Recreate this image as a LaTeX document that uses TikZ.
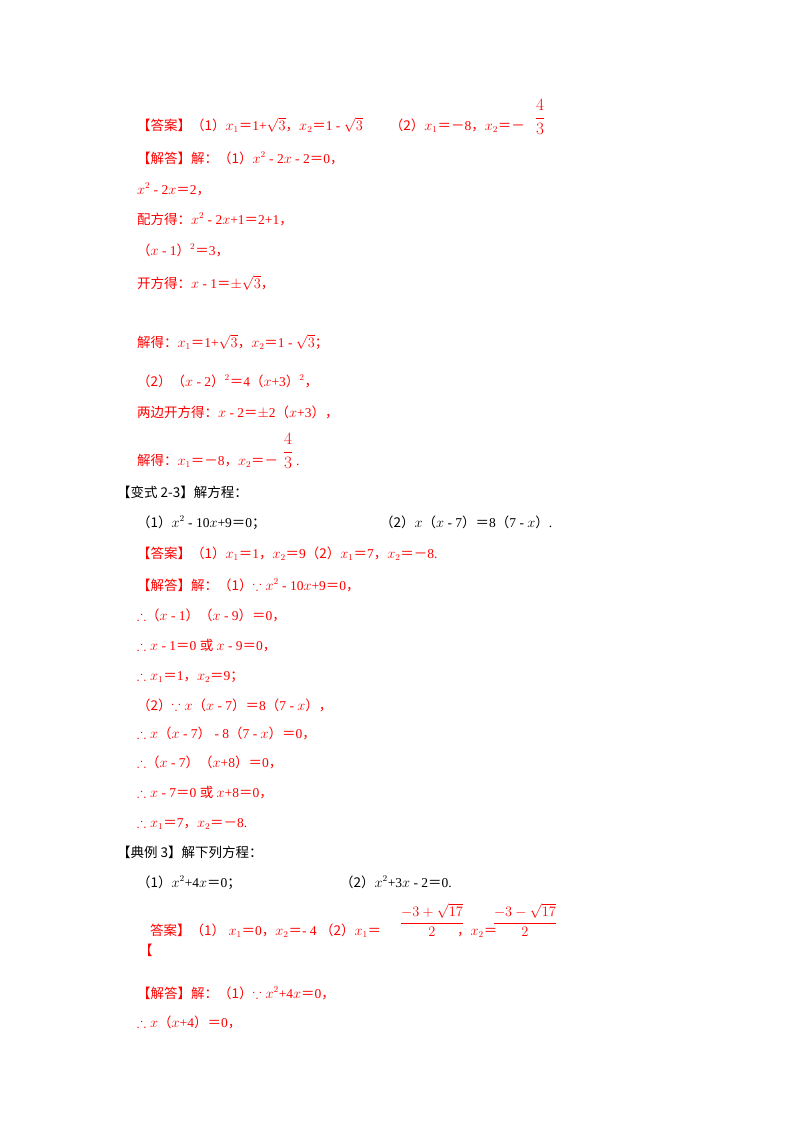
\documentclass[tikz,border=0pt]{standalone}
\usepackage{amsmath,amssymb}
\usepackage{fontspec}
\setmainfont{Liberation Serif}
\newfontfamily\zhf{Noto Sans CJK SC}
\newcommand{\zh}[1]{{\zhf #1}}
\definecolor{ansred}{RGB}{255,0,0}
\tikzset{ln/.style={anchor=base west,inner sep=0pt,font=\fontsize{13.5}{15}\selectfont},
 red/.style={ln,text=ansred},
 frac/.style={red,anchor=center,font=\fontsize{16}{18}\selectfont},
 sfrac/.style={red,anchor=center,font=\fontsize{14.5}{16}\selectfont}}
\newcommand{\sq}[1]{\sqrt{#1}}
\begin{document}
\begin{tikzpicture}[x=1pt,y=-1pt]
\useasboundingbox (0,0) rectangle (800,1132);
\node[red] (a1) at (137,130) {\zh{【答案】（1）}$x_1$\zh{＝}1+$\sq{3}$\zh{，}$x_2$\zh{＝}1 - $\sq{3}$\qquad\zh{（2）}$x_1$\zh{＝－}8\zh{，}$x_2$\zh{＝－}};
\node[frac] (a1f) at (540,117) {$\dfrac{4}{3}$};
\node[red] (a2) at (137,163) {\zh{【解答】解：（1）}$x^2$ - 2$x$ - 2\zh{＝}0\zh{，}};
\node[red] (a3) at (137,194) {$x^2$ - 2$x$\zh{＝}2\zh{，}};
\node[red] (a4) at (137,224) {\zh{配方得：}$x^2$ - 2$x$+1\zh{＝}2+1\zh{，}};
\node[red] (a5) at (137,255) {\zh{（}$x$ - 1\zh{）}$^2$\zh{＝}3\zh{，}};
\node[red] (a6) at (137,288) {\zh{开方得：}$x$ - 1\zh{＝}$\pm\sq{3}$\zh{，}};
\node[red] (a7) at (137,347) {\zh{解得：}$x_1$\zh{＝}1+$\sq{3}$\zh{，}$x_2$\zh{＝}1 - $\sq{3}$\zh{；}};
\node[red] (a8) at (137,386) {\zh{（2）（}$x$ - 2\zh{）}$^2$\zh{＝}4\zh{（}$x$+3\zh{）}$^2$\zh{，}};
\node[red] (a9) at (137,417) {\zh{两边开方得：}$x$ - 2\zh{＝}$\pm$2\zh{（}$x$+3\zh{）}\zh{，}};
\node[red] (a10) at (137,465) {\zh{解得：}$x_1$\zh{＝－}8\zh{，}$x_2$\zh{＝－}\hspace{18pt}.};
\node[frac] (a10f) at (288,451) {$\dfrac{4}{3}$};
\node[ln] (b1) at (117,497) {\zh{【变式 2-3】解方程：}};
\node[ln] (b2) at (137,527) {\zh{（1）}$x^2$ - 10$x$+9\zh{＝}0\zh{；}};
\node[ln] (b3) at (380,527) {\zh{（2）}$x$\zh{（}$x$ - 7\zh{）}\zh{＝}8\zh{（}7 - $x$\zh{）}.};
\node[red] (c1) at (137,558) {\zh{【答案】（1）}$x_1$\zh{＝}1\zh{，}$x_2$\zh{＝}9\zh{（2）}$x_1$\zh{＝}7\zh{，}$x_2$\zh{＝－}8.};
\node[red] (c2) at (137,590) {\zh{【解答】解：（1）}$\because x^2$ - 10$x$+9\zh{＝}0\zh{，}};
\node[red] (c3) at (137,620) {$\therefore$\zh{（}$x$ - 1\zh{）（}$x$ - 9\zh{）＝}0\zh{，}};
\node[red] (c4) at (137,650) {$\therefore x$ - 1\zh{＝}0 \zh{或} $x$ - 9\zh{＝}0\zh{，}};
\node[red] (c5) at (137,680) {$\therefore x_1$\zh{＝}1\zh{，}$x_2$\zh{＝}9\zh{；}};
\node[red] (c6) at (137,710) {\zh{（2）}$\because x$\zh{（}$x$ - 7\zh{）＝}8\zh{（}7 - $x$\zh{）}\zh{，}};
\node[red] (c7) at (137,738) {$\therefore x$\zh{（}$x$ - 7\zh{）} - 8\zh{（}7 - $x$\zh{）＝}0\zh{，}};
\node[red] (c8) at (137,767) {$\therefore$\zh{（}$x$ - 7\zh{）（}$x$+8\zh{）＝}0\zh{，}};
\node[red] (c9) at (137,797) {$\therefore x$ - 7\zh{＝}0 \zh{或} $x$+8\zh{＝}0\zh{，}};
\node[red] (c10) at (137,827) {$\therefore x_1$\zh{＝}7\zh{，}$x_2$\zh{＝－}8.};
\node[ln] (d1) at (117,857) {\zh{【典例 3】解下列方程：}};
\node[ln] (d2) at (137,887) {\zh{（1）}$x^2$+4$x$\zh{＝}0\zh{；}};
\node[ln] (d3) at (340,887) {\zh{（2）}$x^2$+3$x$ - 2\zh{＝}0.};
\node[red] (e1) at (150,935) {\zh{答案】（1）} $x_1$\zh{＝}0\zh{，}$x_2$\zh{＝}- 4 \zh{（2）}$x_1$\zh{＝}};
\node[sfrac] (e1f) at (432,920) {$\dfrac{-3+\sqrt{17}}{2}$};
\node[red] (e1b) at (457,935) {\zh{，}$x_2$\zh{＝}};
\node[sfrac] (e1g) at (525,920) {$\dfrac{-3-\sqrt{17}}{2}$};
\node[red] (e2) at (139,955) {\zh{【}};
\node[red] (f1) at (137,998) {\zh{【解答】解：（1）}$\because x^2$+4$x$\zh{＝}0\zh{，}};
\node[red] (f2) at (137,1027) {$\therefore x$\zh{（}$x$+4\zh{）＝}0\zh{，}};
\end{tikzpicture}
\end{document}
